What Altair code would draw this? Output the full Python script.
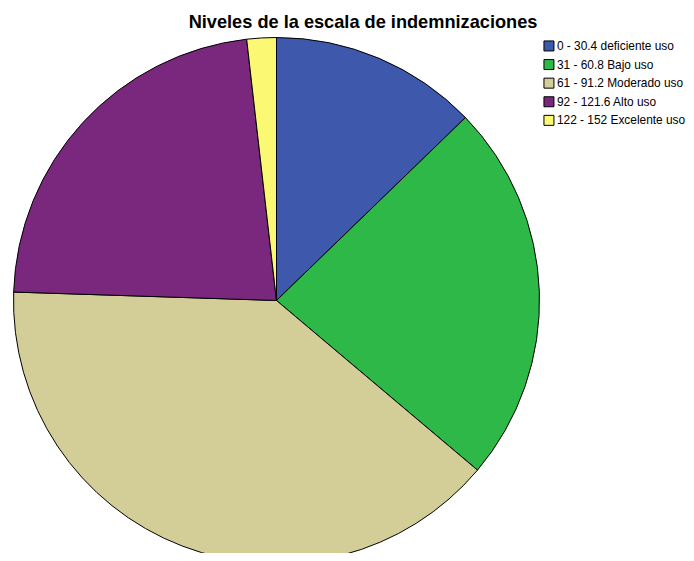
import altair as alt
import pandas as pd

categories = [
    "0 - 30.4 deficiente uso",
    "31 - 60.8 Bajo uso",
    "61 - 91.2 Moderado uso",
    "92 - 121.6 Alto uso",
    "122 - 152 Excelente uso",
]
percentages = [12.76, 23.40, 39.36, 22.68, 1.81]
colors = ["#3E58AC", "#2EB848", "#D3CE97", "#7A287D", "#FBF873"]

df = pd.DataFrame({
    "nivel": categories,
    "pct": percentages,
    "orden": list(range(len(categories))),
})

FONT = "Liberation Sans"

chart = alt.Chart(df).mark_arc(
    stroke="black", strokeWidth=1, radius=263
).encode(
    theta=alt.Theta("pct:Q", stack=True),
    order=alt.Order("orden:Q"),
    color=alt.Color(
        "nivel:N",
        sort=categories,
        scale=alt.Scale(domain=categories, range=colors),
        legend=alt.Legend(
            title=None,
            orient="none",
            legendX=535,
            legendY=2,
            symbolType="square",
            symbolSize=100,
            symbolStrokeColor="black",
            symbolStrokeWidth=1,
            symbolOpacity=1,
            labelFont=FONT,
            labelFontSize=11.9,
            labelColor="black",
            labelOffset=2,
            rowPadding=3.6,
            padding=0,
            labelLimit=300,
        ),
    ),
    x=alt.value(268.5),
    y=alt.value(262.5),
).properties(
    width=678,
    height=515,
    padding={"left": 0, "top": 30, "right": 0, "bottom": 0},
    autosize=alt.AutoSizeParams(type="none"),
    title=alt.TitleParams(
        text="Niveles de la escala de indemnizaciones",
        font=FONT,
        fontSize=18.2,
        fontWeight="bold",
        color="black",
        anchor="middle",
        frame="group",
        baseline="alphabetic",
        offset=10,
        dx=16,
        dy=21,
    ),
).configure_view(stroke=None)

chart.save("out.html", embed_options={"renderer": "svg", "actions": False})
